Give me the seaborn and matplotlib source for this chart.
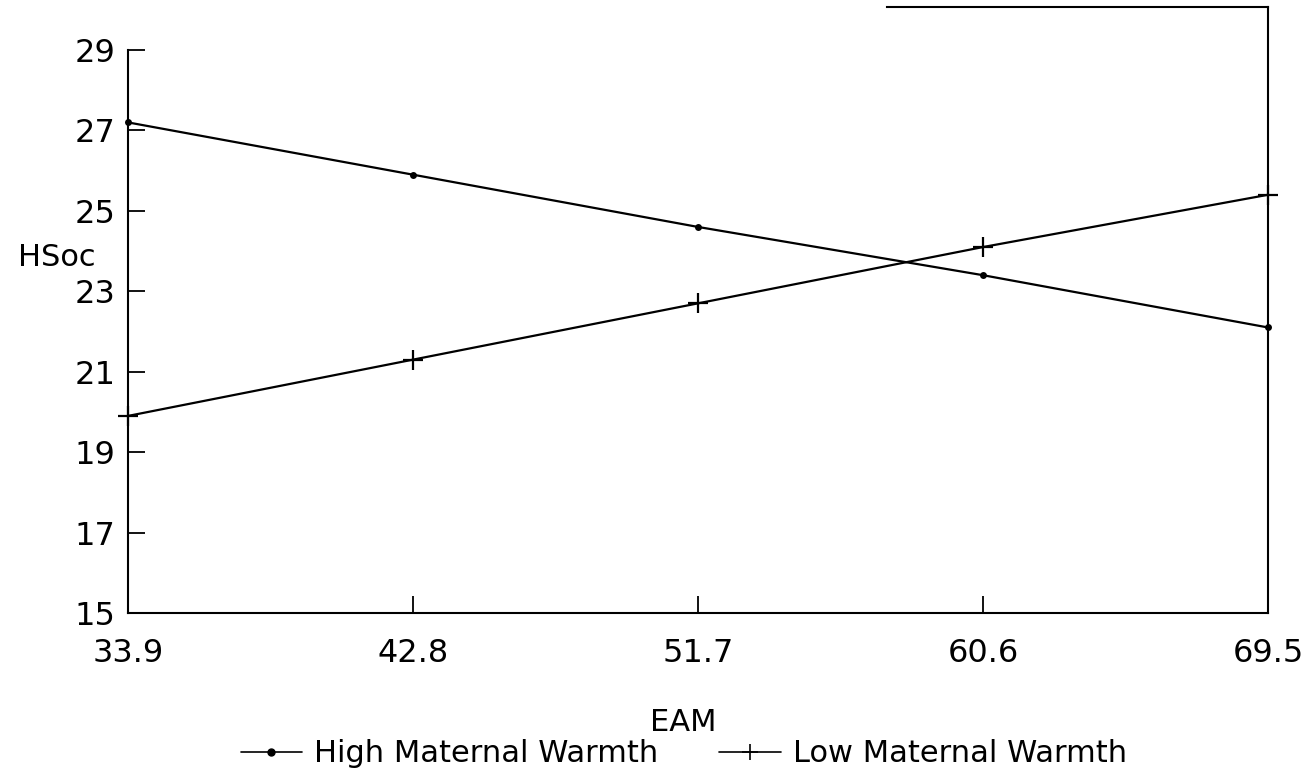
import numpy as np
import pandas as pd
import seaborn as sns
from matplotlib import pyplot as plt

# EAM levels on the x axis
eam = [33.9, 42.8, 51.7, 60.6, 69.5]
# HSoc values
high_warmth = [27.2, 25.9, 24.6, 23.4, 22.1]
low_warmth = [19.9, 21.3, 22.7, 24.1, 25.4]
series_names = ['High Maternal Warmth', 'Low Maternal Warmth']
y_ticks = [15, 17, 19, 21, 23, 25, 27, 29]

sns.set_style('ticks')
plt.rcParams['font.family'] = ['DejaVu Sans']
plt.rcParams['text.color'] = 'black'
plt.rcParams['axes.labelcolor'] = 'black'

fig = plt.figure(figsize=(13.05, 7.74), dpi=100)
ax = fig.add_axes([0.098, 0.208, 0.8737, 0.783])

# filled and line-art markers can't be mixed in one call, so two calls
sns.lineplot(x=eam, y=high_warmth, color='black', marker='o', markersize=5,
             markeredgecolor='black', markeredgewidth=0, linewidth=1.6,
             clip_on=False, ax=ax)
sns.lineplot(x=eam, y=low_warmth, color='black', marker='+', markersize=15,
             markeredgecolor='black', markeredgewidth=1.6, linewidth=1.6,
             clip_on=False, ax=ax)

ax.set_xlim(33.9, 69.5)
ax.set_ylim(15, 30.07)
ax.set_xticks(eam)
ax.set_xticklabels([str(v) for v in eam])
ax.set_yticks(y_ticks)
ax.tick_params(axis='both', direction='in', length=12, width=1.3,
               labelsize=23, colors='black')
ax.tick_params(axis='x', pad=18)
ax.tick_params(axis='y', pad=9)

for s in ax.spines.values():
    s.set_color('black')
    s.set_linewidth(1.5)
ax.spines['left'].set_bounds(15, 29)
ax.spines['top'].set_bounds(57.6, 69.5)

ax.set_xlabel('EAM', fontsize=22)
ax.xaxis.set_label_coords(0.487, -0.157)
ax.set_ylabel('HSoc', fontsize=22, rotation=0, ha='center', va='center')
ax.yaxis.set_label_coords(-0.062, 0.586)

handles = [
    plt.Line2D([], [], color='black', lw=1.2, marker='o', markersize=5),
    plt.Line2D([], [], color='black', lw=1.2, marker='+', markersize=11,
               markeredgewidth=1.2),
]
fig.legend(handles, series_names, loc='center', bbox_to_anchor=(0.524, 0.026),
           ncol=2, frameon=False, fontsize=22, handlelength=2.0,
           handletextpad=0.4, columnspacing=2.0, borderpad=0)

fig.savefig('out.png', dpi=100)
